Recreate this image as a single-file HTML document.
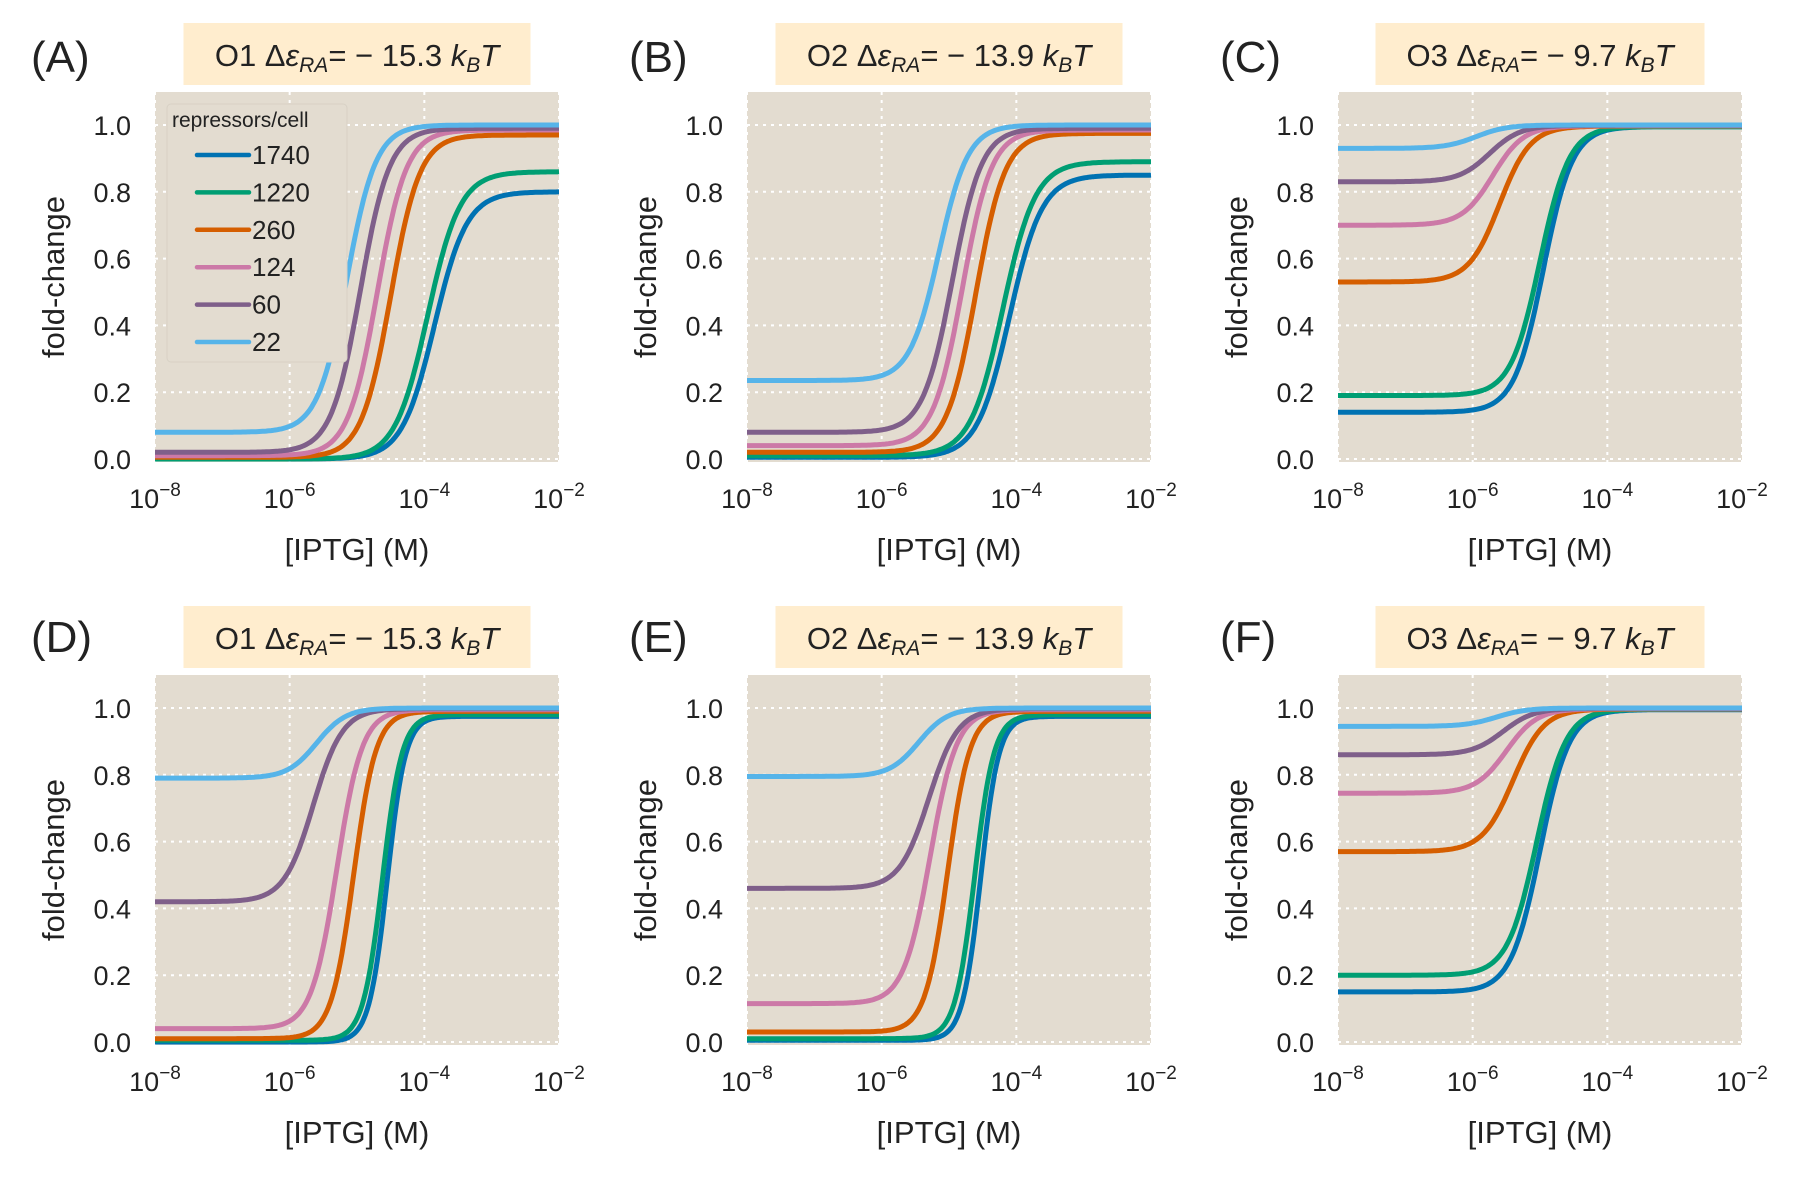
<!DOCTYPE html>
<html><head><meta charset="utf-8">
<style>
html,body{margin:0;padding:0;background:#fff;}
svg{display:block;font-family:"Liberation Sans","DejaVu Sans",sans-serif;}
</style></head>
<body>
<svg id="fig" width="1801" height="1179" viewBox="0 0 1801 1179" xmlns="http://www.w3.org/2000/svg"></svg>
<script>
// Series labels (repressors per cell) and colors
const repressors = ["1740","1220","260","124","60","22"];
const colors = ["#0072b2","#009e73","#d55e00","#cc79a7","#7f5f8a","#56b4e9"];
const panelLetters = ["(A)","(B)","(C)","(D)","(E)","(F)"];
const operators = ["O1","O2","O3","O1","O2","O3"];
const energies = ["15.3","13.9","9.7","15.3","13.9","9.7"];
// Per-panel, per-series curve values: leak (low plateau), saturation (high plateau), log10 midpoint, steepness
const leakA=[0.0,0.0,0.005,0.01,0.02,0.08];   const satA=[0.80,0.86,0.97,0.985,0.99,1.0]; const midA=[-3.85,-3.95,-4.5,-4.7,-4.95,-5.15]; const nA=[1.8,1.8,2,2,2,2];
const leakB=[0.005,0.01,0.02,0.04,0.08,0.235];const satB=[0.85,0.89,0.975,0.985,0.99,1.0];const midB=[-4.1,-4.2,-4.6,-4.8,-4.95,-5.15];const nB=[1.8,1.8,2,2,2,2];
const leakC=[0.14,0.19,0.53,0.70,0.83,0.93]; const satC=[0.995,0.995,0.997,0.998,0.999,1.0];const midC=[-4.95,-5.0,-5.6,-5.7,-5.75,-5.95];const nC=[2,2,1.9,1.9,1.9,1.9];
const leakD=[0.0,0.005,0.01,0.04,0.42,0.79]; const satD=[0.975,0.98,0.99,0.995,0.998,1.0];const midD=[-4.55,-4.62,-5.05,-5.3,-5.65,-5.6];const nD=[3.2,3,2.6,2.3,2,2];
const leakE=[0.005,0.01,0.03,0.115,0.46,0.795];const satE=[0.975,0.98,0.99,0.995,0.998,1.0];const midE=[-4.53,-4.62,-5.02,-5.28,-5.3,-5.45];const nE=[3.2,3,2.6,2.2,2,2];
const leakF=[0.15,0.20,0.57,0.745,0.86,0.945];const satF=[0.995,0.996,0.997,0.998,0.999,1.0];const midF=[-5.0,-5.05,-5.4,-5.5,-5.55,-5.65];const nF=[2,2,1.9,1.9,1.9,1.9];
const yTicks=[0,0.2,0.4,0.6,0.8,1.0];
const yTickLabels=["0.0","0.2","0.4","0.6","0.8","1.0"];
const xTicks=[-8,-6,-4,-2];
const xTickLabels=["−8","−6","−4","−2"];

const panels=[[leakA,satA,midA,nA],[leakB,satB,midB,nB],[leakC,satC,midC,nC],[leakD,satD,midD,nD],[leakE,satE,midE,nE],[leakF,satF,midF,nF]];
const NS="http://www.w3.org/2000/svg";
const svg=document.getElementById('fig');
function mk(tag,attrs,parent){const e=document.createElementNS(NS,tag);for(const k in attrs)e.setAttribute(k,attrs[k]);(parent||svg).appendChild(e);return e;}
const colX=[155,747,1338], rowY=[92,675], PW=404, PH=370;
const boxW=[347,347,329];

panels.forEach((p,i)=>{
  const c=i%3,r=Math.floor(i/3);
  const x0=colX[c], y0=rowY[r];
  const g=mk('g',{});
  
  
  const xs=v=>x0+(v+8)/6*PW;
  const ys=v=>y0+367-(v)*334;
  const bg=mk('rect',{x:x0,y:y0,width:PW,height:PH,fill:'#e3dcd0'},g);
  
  
  yTicks.forEach((t,k)=>{
    const gl=mk('line',{x1:x0,x2:x0+PW,y1:ys(t),y2:ys(t),stroke:'#fff','stroke-width':2,'stroke-dasharray':'3,5'},g);
    
    
    const tl=mk('text',{x:x0-24,y:ys(t)+10,'font-size':27,'text-anchor':'end',fill:'#222'},g);
    tl.textContent=yTickLabels[k];
    
    
  });
  xTicks.forEach((t,k)=>{
    const gl=mk('line',{x1:xs(t),x2:xs(t),y1:y0,y2:y0+PH,stroke:'#fff','stroke-width':2,'stroke-dasharray':'3,5'},g);
    
    
    const tl=mk('text',{x:xs(t),y:y0+PH+46,'font-size':27,'text-anchor':'middle',fill:'#222'},g);
    tl.innerHTML='10<tspan dy="-12" font-size="19">'+xTickLabels[k]+'</tspan>';
    
    
  });
  const [leak,sat,mid,nn]=p;
  repressors.forEach((rep,s)=>{
    let d='';
    for(let k=0;k<=240;k++){
      const lx=-8+6*k/240;
      const f=leak[s]+(sat[s]-leak[s])/(1+Math.pow(10,-nn[s]*(lx-mid[s])));
      d+=(k?'L':'M')+xs(lx).toFixed(1)+','+ys(f).toFixed(1);
    }
    const pth=mk('path',{d:d,fill:'none',stroke:colors[s],'stroke-width':5,'stroke-linejoin':'round'},g);
    
    
  });
  const yl=mk('text',{x:0,y:0,'font-size':31,'text-anchor':'middle',fill:'#222',transform:'translate('+(x0-91)+','+(y0+PH/2)+') rotate(-90)'},g);
  yl.textContent='fold-change';
  
  
  const xl=mk('text',{x:x0+PW/2,y:y0+PH+98,'font-size':31,'text-anchor':'middle',fill:'#222'},g);
  xl.textContent='[IPTG] (M)';
  
  
  const bw=boxW[c], bx=x0+PW/2-bw/2, by=y0-69;
  const tb=mk('rect',{x:bx,y:by,width:bw,height:62,fill:'#ffedce'},g);
  
  
  const tt=mk('text',{x:bx+bw/2,y:by+43,'font-size':31,'text-anchor':'middle',fill:'#222'},g);
  tt.innerHTML=operators[i]+' Δ<tspan font-style="italic">ε</tspan><tspan font-style="italic" font-size="21" dy="6">RA</tspan><tspan dy="-6">= − '+energies[i]+' </tspan><tspan font-style="italic">k</tspan><tspan font-style="italic" font-size="21" dy="6">B</tspan><tspan font-style="italic" dy="-6">T</tspan>';
  
  
  const pl=mk('text',{x:[31,629,1220][c],y:r?652:72,'font-size':44,fill:'#222'},g);
  pl.textContent=panelLetters[i];
  
  
  if(i===0){
    const lg=mk('g',{},g);
    
    
    mk('rect',{x:167,y:104,width:180,height:258,rx:4,fill:'#e3dcd0',stroke:'#d8d1c5','stroke-width':1},lg);
    const lt=mk('text',{x:172,y:127,'font-size':21,fill:'#222'},lg);
    lt.textContent='repressors/cell';
    
    
    repressors.forEach((rep,s)=>{
      const yy=155+s*37.4;
      const le=mk('g',{},lg);
      
      
      mk('line',{x1:197,x2:249,y1:yy,y2:yy,stroke:colors[s],'stroke-width':4.5,'stroke-linecap':'round'},le);
      const tx=mk('text',{x:252,y:yy+9,'font-size':26,fill:'#222'},le);
      tx.textContent=rep;
    });
  }
});
</script>
</body></html>
